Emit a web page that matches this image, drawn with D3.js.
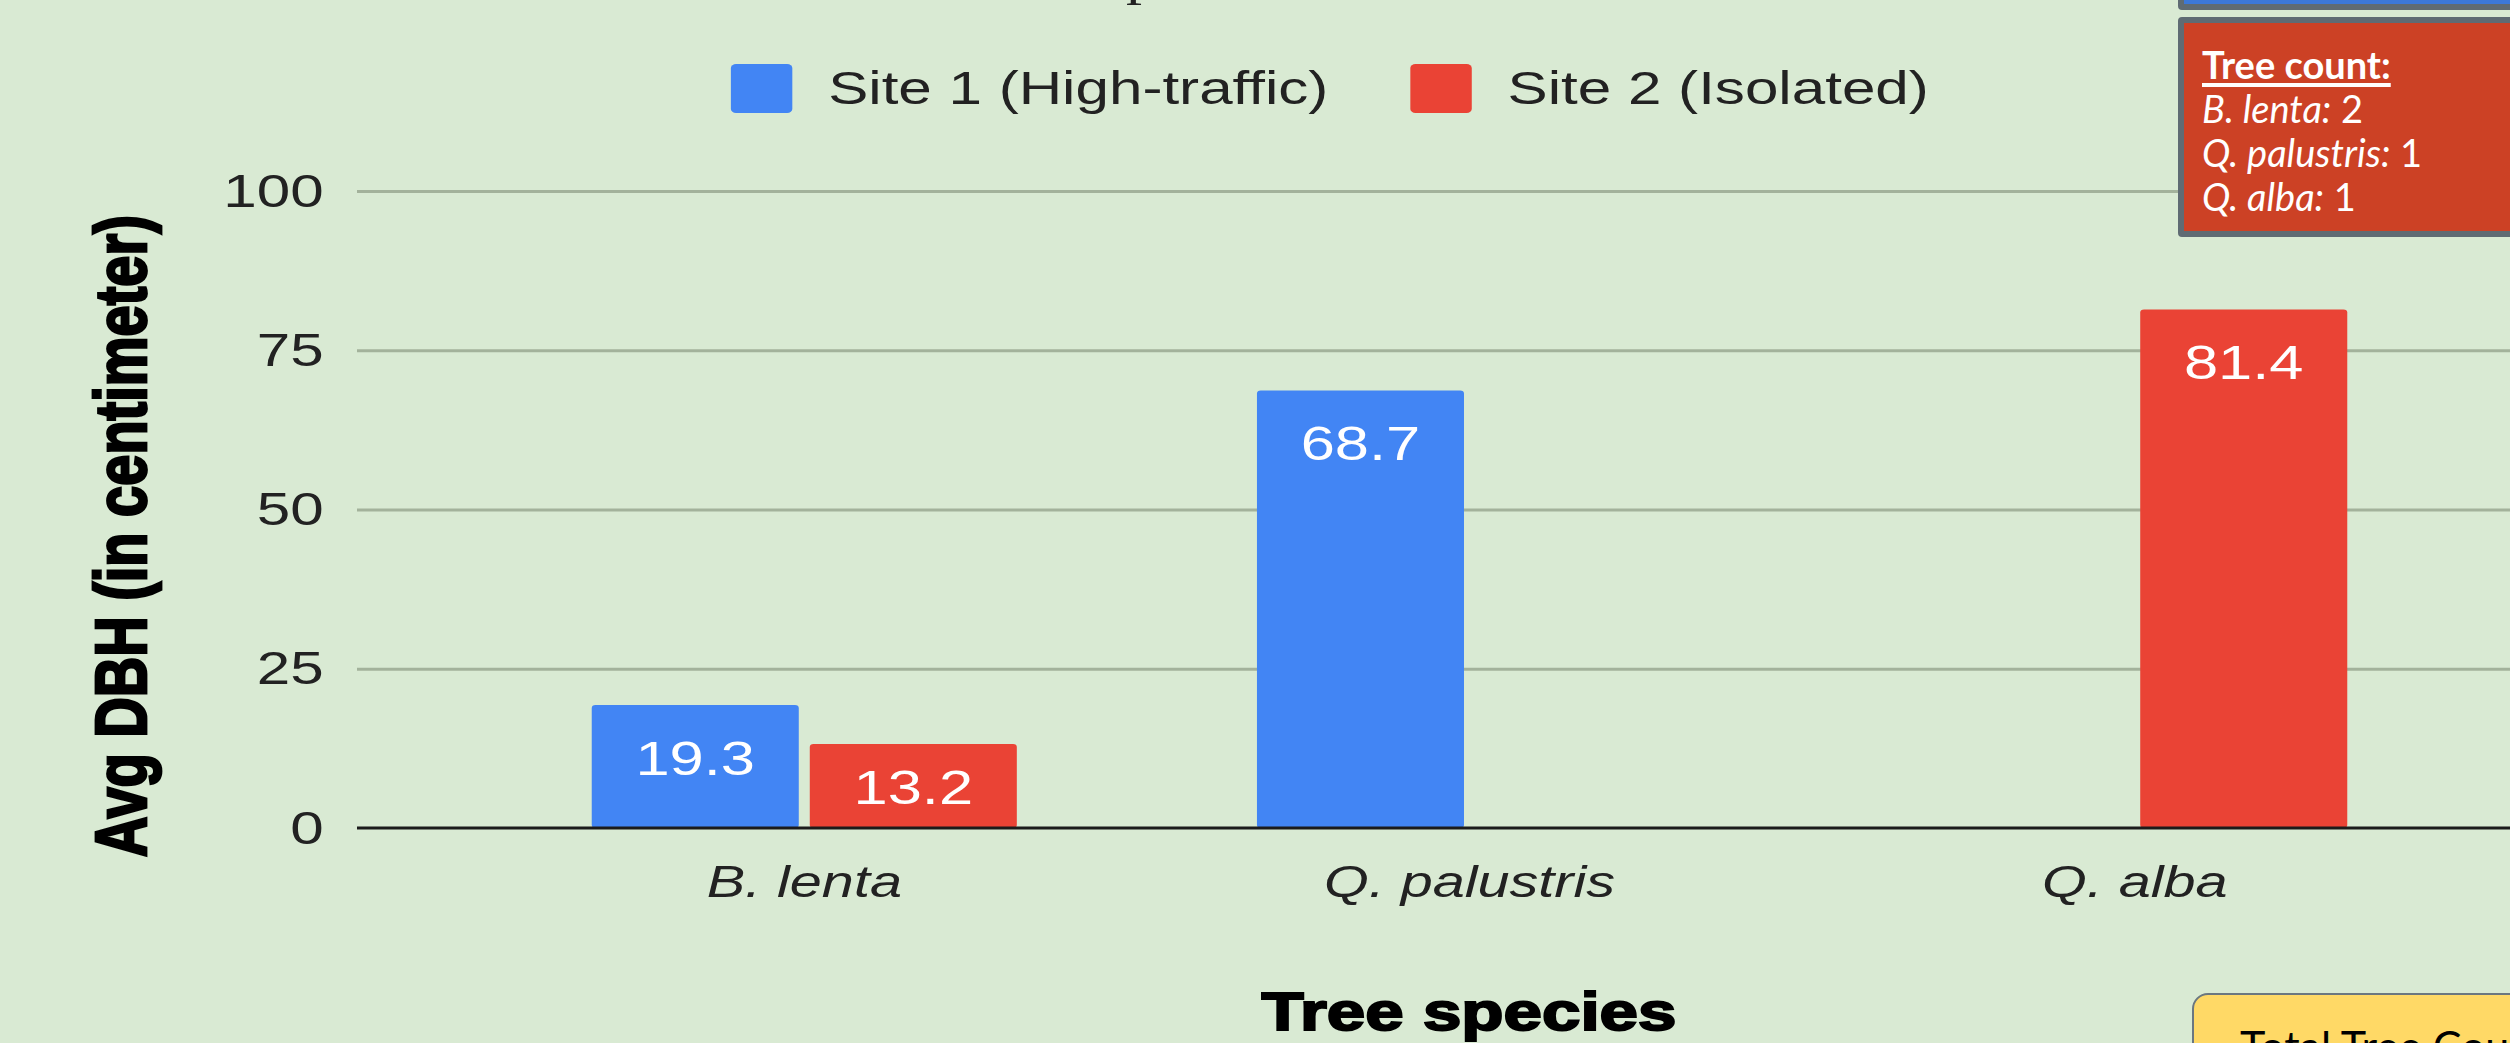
<!DOCTYPE html>
<meta charset="utf-8">
<script src="https://d3js.org/d3.v7.min.js"></script>
<style>
  body {
    margin: 0;
    width: 2510px;
    height: 1043px;
    overflow: hidden;
    position: relative;
    background: #d9ead3;
    font-family: Arial, "Liberation Sans", sans-serif;
  }
  #chart { position: absolute; left: 0; top: 0; }
  .note {
    position: absolute;
    box-sizing: border-box;
    font-family: Lato, "Open Sans", sans-serif;
    font-size: 38px;
    line-height: 44px;
    white-space: nowrap;
  }
  #blue-box {
    left: 2178px; top: -40px; width: 400px; height: 50px;
    background: #3c78d8; border: 6px solid #5f6b73; border-radius: 4px;
  }
  #count-box {
    left: 2178px; top: 17px; width: 400px; height: 220px;
    background: #cc4125; border: 6px solid #5f6b73; border-radius: 4px;
    color: #fff; padding: 19px 0 0 18px;
  }
  #count-box .head {
    font-weight: bold;
    text-decoration: underline;
    text-decoration-thickness: 4px;
    text-underline-offset: 4px;
  }
  #total-box {
    left: 2192px; top: 993px; width: 400px; height: 200px;
    background: #ffd966; border: 2px solid #6b7780; border-radius: 16px;
    color: #000; padding: 26px 0 0 46px;
    font-size: 43px; line-height: 50px;
  }
</style>
<div id="chart"></div>
<div class="note" id="blue-box"></div>
<div class="note" id="count-box"></div>
<div class="note" id="total-box">Total Tree Count</div>
<script>
// data
const species = ["B. lenta", "Q. palustris", "Q. alba"];
const sites = ["Site 1 (High-traffic)", "Site 2 (Isolated)"];
const site1Dbh = [19.3, 68.7, 0];
const site2Dbh = [13.2, 0, 81.4];
const yTicks = [0, 25, 50, 75, 100];
const treeCounts = [2, 1, 1];

const siteColors = ["#4285f4", "#ea4335"];

// the original picture is stretched sideways, so draw in a narrower viewBox
var W = 2510, H = 1043, sx = 1.28;
var vw = W / sx;
var left = 357 / sx;

var svg = d3.select("#chart")
  .append("svg")
  .attr("width", W)
  .attr("height", H)
  .attr("viewBox", "0 0 " + vw + " " + H)
  .attr("preserveAspectRatio", "none");

var x0 = d3.scaleBand()
  .domain(species)
  .range([472 / sx, 2467 / sx])
  .paddingInner(0.361)
  .paddingOuter(0.18);

var x1 = d3.scaleBand()
  .domain([0, 1])
  .range([0, x0.bandwidth()])
  .paddingInner(0.0505);

var y = d3.scaleLinear()
  .domain([0, 100])
  .range([828, 191]);

// cut-off title remnant at the very top
svg.append("text")
  .attr("x", 1142 / sx)
  .attr("y", -6)
  .attr("text-anchor", "middle")
  .style("font-family", "'Liberation Serif', serif")
  .style("font-size", "50px")
  .attr("fill", "#222")
  .text("p");

// y axis + gridlines
var yAxis = svg.append("g")
  .attr("transform", "translate(" + left + ",0)")
  .call(d3.axisLeft(y).tickValues(yTicks).tickSize(-(vw - left)).tickPadding(26));
yAxis.select(".domain").remove();
yAxis.selectAll("line")
  .attr("stroke", function(d) { return d === 0 ? "none" : "#a3b29b"; })
  .attr("stroke-width", 3);
yAxis.selectAll("text")
  .style("font-family", "Arial, 'Liberation Sans', sans-serif")
  .style("font-size", "47px")
  .attr("fill", "#222");

// bars
var series = [site1Dbh, site2Dbh];
var bars = [];
species.forEach(function(sp, i) {
  series.forEach(function(vals, s) {
    if (vals[i] > 0) bars.push({ species: sp, site: s, value: vals[i] });
  });
});

svg.append("g")
  .selectAll("rect")
  .data(bars)
  .enter().append("rect")
  .attr("x", function(d) { return x0(d.species) + x1(d.site); })
  .attr("y", function(d) { return y(d.value); })
  .attr("width", x1.bandwidth())
  .attr("height", function(d) { return y(0) - y(d.value); })
  .attr("rx", 3)
  .attr("fill", function(d) { return siteColors[d.site]; });

svg.append("g")
  .selectAll("text")
  .data(bars)
  .enter().append("text")
  .attr("x", function(d) { return x0(d.species) + x1(d.site) + x1.bandwidth() / 2; })
  .attr("y", function(d) {
    return Math.min(y(d.value) + 70, (y(d.value) + y(0)) / 2 + 18);
  })
  .attr("text-anchor", "middle")
  .attr("fill", "#fff")
  .style("font-size", "48px")
  .text(function(d) { return d.value.toFixed(1); });

// baseline on top of the bars
svg.append("line")
  .attr("x1", left).attr("x2", vw)
  .attr("y1", y(0)).attr("y2", y(0))
  .attr("stroke", "#1b1b1b")
  .attr("stroke-width", 3);

// category axis
var xAxis = svg.append("g")
  .attr("transform", "translate(0," + y(0) + ")")
  .call(d3.axisBottom(x0).tickSize(0).tickPadding(37));
xAxis.select(".domain").remove();
xAxis.selectAll("text")
  .style("font-family", "Arial, 'Liberation Sans', sans-serif")
  .style("font-size", "45px")
  .style("font-style", "italic")
  .attr("fill", "#222");

// axis titles
svg.append("text")
  .attr("text-anchor", "middle")
  .attr("x", 1469 / sx)
  .attr("y", 1030)
  .style("font-size", "54px")
  .style("font-weight", "bold")
  .attr("fill", "#000")
  .attr("stroke", "#000")
  .attr("stroke-width", 2)
  .text("Tree species");

svg.append("text")
  .attr("text-anchor", "middle")
  .attr("transform", "translate(" + (146 / sx) + ",536) rotate(-90)")
  .style("font-size", "56px")
  .style("font-weight", "bold")
  .attr("fill", "#000")
  .attr("stroke", "#000")
  .attr("stroke-width", 2.2)
  .text("Avg DBH (in centimeter)");

// legend
var lx = 571;
sites.forEach(function(name, s) {
  svg.append("rect")
    .attr("x", lx).attr("y", 64)
    .attr("width", 48).attr("height", 49)
    .attr("rx", 4)
    .attr("fill", siteColors[s]);
  var t = svg.append("text")
    .attr("x", lx + 76)
    .attr("y", 104)
    .style("font-size", "47px")
    .attr("fill", "#222")
    .text(name);
  lx = lx + 76 + t.node().getComputedTextLength() + 64;
});

// tree count note
var box = d3.select("#count-box");
box.append("div").attr("class", "head").text("Tree count:");
species.forEach(function(sp, i) {
  var row = box.append("div");
  row.append("i").text(sp + ":");
  row.append("span").text(" " + treeCounts[i]);
});
</script>
